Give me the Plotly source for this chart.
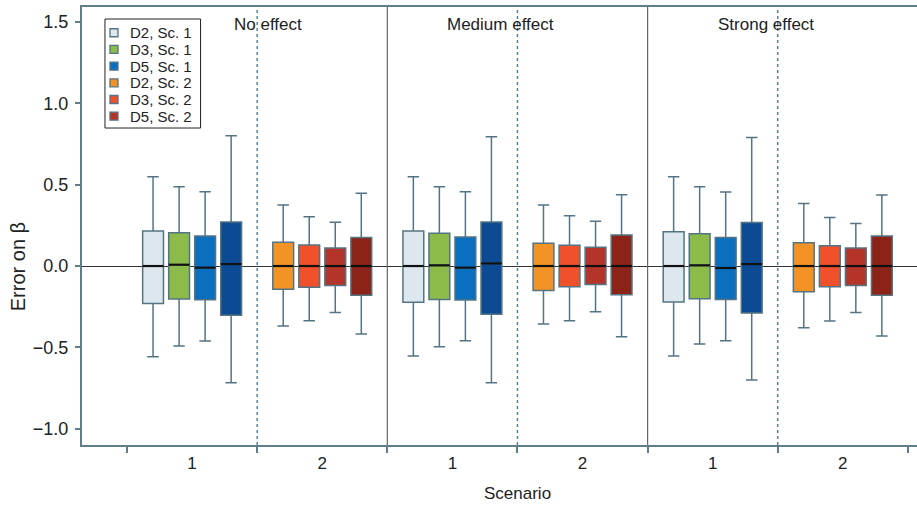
import plotly.graph_objects as go

# ---- data -------------------------------------------------------------
effects = ["No effect", "Medium effect", "Strong effect"]
scenario_labels = ["1", "2", "1", "2", "1", "2"]

series_names = ["D2, Sc. 1", "D3, Sc. 1", "D5, Sc. 1", "Sc. 1 (4)",
                "D2, Sc. 2", "D3, Sc. 2", "D5, Sc. 2", "Sc. 2 (4)"]
series_scenario = [1, 1, 1, 1, 2, 2, 2, 2]
series_slot = [0, 1, 2, 3, 0, 1, 2, 3]
series_legend = [True, True, True, False, True, True, True, False]
series_fill = ["#dde8ee", "#8dbb4a", "#0b6fc0", "#0d4a94",
               "#f39325", "#f0502a", "#b5342a", "#8b2318"]

upper = [[0.549, 0.549, 0.549], [0.487, 0.487, 0.487], [0.457, 0.457, 0.455], [0.800, 0.795, 0.790],
         [0.375, 0.375, 0.385], [0.303, 0.309, 0.299], [0.269, 0.275, 0.262], [0.447, 0.438, 0.436]]
q3 = [[0.215, 0.215, 0.211], [0.205, 0.201, 0.199], [0.184, 0.178, 0.176], [0.270, 0.270, 0.268],
      [0.146, 0.140, 0.143], [0.129, 0.127, 0.125], [0.111, 0.115, 0.111], [0.176, 0.190, 0.184]]
median = [[0.000, 0.000, 0.000], [0.008, 0.004, 0.004], [-0.010, -0.010, -0.012], [0.012, 0.016, 0.012],
          [0.000, 0.000, 0.000], [0.000, 0.000, 0.000], [0.000, 0.000, 0.000], [0.000, 0.000, 0.000]]
q1 = [[-0.230, -0.223, -0.221], [-0.203, -0.205, -0.201], [-0.207, -0.209, -0.205], [-0.303, -0.297, -0.289],
      [-0.143, -0.150, -0.158], [-0.131, -0.127, -0.127], [-0.119, -0.113, -0.119], [-0.180, -0.176, -0.180]]
lower = [[-0.557, -0.553, -0.553], [-0.492, -0.496, -0.479], [-0.461, -0.459, -0.459], [-0.717, -0.717, -0.700],
         [-0.369, -0.356, -0.379], [-0.336, -0.336, -0.338], [-0.285, -0.281, -0.285], [-0.418, -0.434, -0.430]]

# ---- style ------------------------------------------------------------
FONT = "Liberation Sans, Arial, sans-serif"
TXT = "#222222"
EDGE = "#557483"
AXIS = "#5f7d8a"
slot_offset = [-0.3, -0.1, 0.1, 0.3]
box_w = 0.16

fig = go.Figure()

def positions(i):
    return [2 * e + series_scenario[i] + slot_offset[series_slot[i]] for e in range(len(effects))]

for i in range(8):
    xs = positions(i)
    fig.add_trace(go.Box(
        x=xs, q1=q1[i], median=median[i], q3=q3[i],
        lowerfence=lower[i], upperfence=upper[i],
        name=series_names[i], showlegend=False,
        width=box_w, whiskerwidth=0.55,
        fillcolor=series_fill[i], line=dict(color=EDGE, width=1.5),
        hoverinfo="skip",
    ))

# black median lines
for i in range(8):
    xs = positions(i)
    mx, my = [], []
    for x, m in zip(xs, median[i]):
        mx += [x - box_w / 2, x + box_w / 2, None]
        my += [m, m, None]
    fig.add_trace(go.Scatter(x=mx, y=my, mode="lines", line=dict(color="#111111", width=2.2),
                             showlegend=False, hoverinfo="skip"))

shapes = []
for xv in [2.5, 4.5]:
    shapes.append(dict(type="line", xref="x", yref="paper", x0=xv, x1=xv, y0=0, y1=1,
                       line=dict(color="#6b6565", width=1.2)))
for xv in [1.5, 3.5, 5.5]:
    shapes.append(dict(type="line", xref="x", yref="paper", x0=xv, x1=xv, y0=0, y1=1,
                       line=dict(color="#4f7a8f", width=1.4, dash="dot")))

annotations = []
effect_x = [1.58, 3.37, 5.41]
for e, name in enumerate(effects):
    annotations.append(dict(x=effect_x[e], y=0.961, xref="x", yref="paper", text=name,
                            showarrow=False, xanchor="center", yanchor="middle",
                            font=dict(size=17, color=TXT, family=FONT)))
annotations.append(dict(x=3.5, y=-0.11, xref="x", yref="paper", text="Scenario",
                        showarrow=False, xanchor="center", yanchor="middle",
                        font=dict(size=17, color=TXT, family=FONT)))
annotations.append(dict(x=-0.077, y=0.4075, xref="paper", yref="paper", text="Error on β",
                        showarrow=False, textangle=-90, xanchor="center", yanchor="middle",
                        font=dict(size=20, color=TXT, family=FONT)))

# ---- custom compact legend (in paper coordinates) ---------------------
leg_left, leg_right, leg_top, leg_bottom = 0.0275, 0.142, 0.9726, 0.7237
shapes.append(dict(type="rect", xref="paper", yref="paper", x0=leg_left, x1=leg_right,
                   y0=leg_bottom, y1=leg_top, line=dict(color=TXT, width=1),
                   fillcolor="white", layer="above"))
legend_items = [i for i in range(8) if series_legend[i]]
row_top = 0.9412
row_step = 0.0381
for k, i in enumerate(legend_items):
    yk = row_top - k * row_step
    shapes.append(dict(type="rect", xref="paper", yref="paper",
                       xsizemode="pixel", ysizemode="pixel",
                       xanchor=0.0383, yanchor=yk, x0=-4, x1=4, y0=-4, y1=4,
                       fillcolor=series_fill[i], line=dict(color=EDGE, width=1.3),
                       layer="above"))
    annotations.append(dict(x=0.0551, y=yk, xref="paper", yref="paper",
                            text=series_names[i], showarrow=False,
                            xanchor="left", yanchor="middle",
                            font=dict(size=15, color=TXT, family=FONT)))

fig.update_layout(
    width=917, height=508,
    margin=dict(l=82, r=0, t=7, b=63, autoexpand=False),
    paper_bgcolor="white", plot_bgcolor="white",
    font=dict(family=FONT, size=17, color=TXT),
    boxmode="overlay", showlegend=False,
    shapes=shapes, annotations=annotations,
    xaxis=dict(range=[0.154, 6.57], tickmode="array", tickvals=[1, 2, 3, 4, 5, 6],
               ticktext=scenario_labels, ticks="outside", ticklen=6, ticklabelstandoff=-4,
               tickcolor="rgba(0,0,0,0)", showgrid=False, zeroline=False, automargin=False,
               showline=True, linecolor=AXIS, linewidth=2, mirror=True,
               minor=dict(tickvals=[0.5, 1.5, 2.5, 3.5, 4.5, 5.5, 6.5], ticks="outside",
                          ticklen=6, tickcolor=AXIS, tickwidth=1.5, showgrid=False),
               tickfont=dict(size=17)),
    yaxis=dict(range=[-1.10, 1.592], tickmode="array", tickvals=[-1.0, -0.5, 0.0, 0.5, 1.0, 1.5],
               ticktext=["\u22121.0", "\u22120.5", "0.0", "0.5", "1.0", "1.5"],
               ticks="outside", ticklen=5, tickcolor=AXIS, tickwidth=1.5, automargin=False,
               ticklabelstandoff=3,
               showgrid=False, zeroline=True, zerolinecolor="#333333", zerolinewidth=1.2,
               showline=True, linecolor=AXIS, linewidth=2, tickfont=dict(size=18)),
)

fig.write_html("out.html", config={"displayModeBar": False},
               post_script="document.body.style.margin='0';document.body.style.padding='0';")
